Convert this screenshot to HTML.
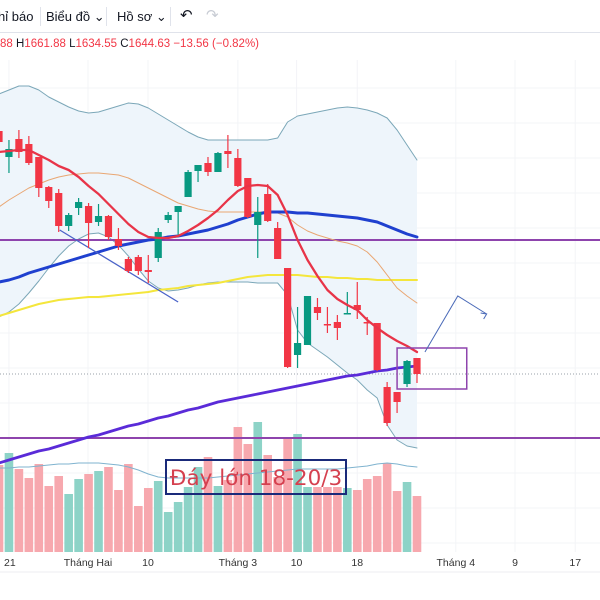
<!DOCTYPE html>
<html><head><meta charset="utf-8">
<style>
html,body{margin:0;padding:0;background:#fff;width:600px;height:600px;overflow:hidden;font-family:"Liberation Sans","DejaVu Sans",sans-serif}
#toolbar{position:absolute;left:0;top:0;width:600px;height:32px;border-bottom:1px solid #e0e3eb;font-size:13px;color:#131722}
.tb{position:absolute;top:9px}
.sep{position:absolute;top:7px;width:1px;height:19px;background:#e0e3eb}
#legend{position:absolute;left:0;top:38px;font-size:11.5px;color:#131722;white-space:nowrap}
#legend .v{color:#f23645}
svg{position:absolute;left:0;top:0}
</style></head><body>
<div id="toolbar">
  <span class="tb" style="left:-2px">hỉ báo</span>
  <div class="sep" style="left:40px"></div>
  <span class="tb" style="left:46px">Biểu đồ ⌄</span>
  <div class="sep" style="left:106px"></div>
  <span class="tb" style="left:117px">Hồ sơ ⌄</span>
  <div class="sep" style="left:170px"></div>
  <span class="tb" style="left:180px;font-size:15px;top:6px">↶</span>
  <span class="tb" style="left:206px;font-size:15px;top:6px;color:#c8ccd4">↷</span>
</div>
<div id="legend"><span class="v">88</span> H<span class="v">1661.88</span> L<span class="v">1634.55</span> C<span class="v">1644.63</span> <span class="v">−13.56 (−0.82%)</span></div>
<svg id="chart" width="600" height="600"></svg>
<script>
const opens  = [1889,1863,1881,1876,1863,1833,1827,1794,1812,1814,1798,1804,1781,1761,1763,1750,1762,1800,1808,1823,1849,1857,1848,1869,1862,1842,1795,1826,1792,1752,1665,1675,1713,1696,1698,1706,1715,1698,1697,1633,1628,1636,1662];
const highs  = [1892,1880,1890,1884,1863,1834,1831,1807,1822,1817,1816,1805,1792,1763,1765,1765,1792,1808,1814,1850,1855,1863,1868,1885,1871,1842,1823,1836,1798,1752,1713,1724,1722,1713,1705,1728,1738,1703,1697,1638,1628,1660,1662];
const lows   = [1875,1847,1862,1855,1823,1812,1788,1789,1805,1772,1794,1780,1770,1747,1745,1737,1758,1797,1783,1823,1838,1844,1848,1852,1833,1802,1762,1798,1761,1652,1652,1675,1700,1687,1680,1706,1701,1685,1649,1594,1607,1633,1637];
const closes = [1878,1871,1868,1857,1832,1819,1794,1805,1818,1797,1804,1783,1774,1749,1749,1748,1788,1805,1814,1848,1855,1848,1867,1866,1834,1803,1808,1799,1761,1653,1677,1724,1707,1695,1692,1707,1710,1697,1650,1597,1618,1659,1646];
const volumes = [87,99,83,74,88,66,76,58,73,78,81,85,62,88,46,64,71,40,50,65,85,95,66,72,125,108,130,97,75,113,118,65,65,65,65,64,62,73,76,89,61,70,56];
const volumeMA = [84,84,85,85,86,87,88,88,89,89,89,88,87,85,82,78,75,74,74,74,74,74,75,76,77,78,79,80,81,82,83,83,83,83,83,84,85,86,88,89,88,86,85];
const maFast = [1868,1869,1870,1870,1865,1860,1854,1850,1843,1834,1826,1816,1806,1796,1788,1783,1782,1782,1784,1789,1795,1802,1810,1820,1829,1834,1835,1834,1825,1805,1780,1760,1744,1730,1721,1715,1710,1700,1692,1685,1679,1674,1668];
const maBlue = [1738,1740,1743,1747,1750,1753,1756,1759,1762,1765,1768,1771,1774,1776,1778,1780,1781,1783,1784,1786,1788,1790,1793,1796,1800,1803,1806,1808,1808,1808,1807,1807,1806,1805,1804,1803,1802,1800,1798,1794,1790,1786,1783];
const maOrange = [1813,1820,1826,1832,1836,1840,1843,1845,1846,1847,1847,1846,1845,1842,1837,1832,1827,1822,1817,1814,1811,1809,1808,1808,1808,1808,1808,1808,1807,1803,1795,1789,1785,1782,1779,1777,1774,1768,1758,1745,1732,1724,1717];
const maYellow = [1704,1707,1710,1713,1716,1718,1720,1721,1722,1723,1723,1724,1725,1726,1727,1728,1730,1731,1732,1734,1735,1736,1737,1739,1741,1743,1744,1745,1745,1745,1745,1744,1743,1743,1742,1742,1741,1741,1740,1740,1740,1740,1740];
const ma200 = [1557,1560,1563,1566,1569,1571,1574,1577,1580,1583,1585,1588,1591,1594,1596,1599,1602,1604,1607,1610,1612,1615,1618,1620,1622,1624,1626,1628,1630,1632,1634,1636,1638,1640,1642,1644,1645,1647,1649,1650,1652,1653,1654];
const bbUpper = [1926,1930,1934,1934,1930,1923,1918,1913,1909,1907,1908,1911,1914,1917,1916,1912,1906,1900,1894,1888,1883,1880,1880,1880,1880,1880,1880,1880,1882,1898,1904,1906,1908,1910,1912,1913,1912,1910,1907,1902,1890,1875,1860];
const bbLower = [1703,1708,1716,1727,1739,1752,1764,1774,1781,1786,1787,1783,1775,1764,1751,1739,1732,1729,1730,1732,1735,1737,1738,1738,1738,1738,1737,1737,1737,1725,1690,1677,1670,1663,1655,1647,1640,1630,1622,1595,1580,1574,1572];
const xLabels = ["21","Tháng Hai","10","Tháng 3","10","18","Tháng 4","9","17"];
const xLabelIdx = [1,8.94,14.97,24.0,29.9,36.0,45.9,51.85,57.9];

const NS="http://www.w3.org/2000/svg";
const svg=document.getElementById('chart');
const xS=i=>-1+9.952*i;
const yP=p=>2020-p;
const yV=v=>552-v;
function mk(tag,attrs,parent){const e=document.createElementNS(NS,tag);for(const k in attrs)e.setAttribute(k,attrs[k]);(parent||svg).appendChild(e);return e;}

const grid=mk('g',{});


for(let gy=88;gy<552;gy+=35){mk('line',{x1:0,x2:600,y1:gy,y2:gy,stroke:'#f3f4f7','stroke-width':1},grid);}
xLabelIdx.forEach(i=>mk('line',{x1:xS(i),x2:xS(i),y1:60,y2:552,stroke:'#f3f4f7','stroke-width':1},grid));

let up=bbUpper.map((v,i)=>xS(i)+','+yP(v));
let lo=bbLower.map((v,i)=>xS(i)+','+yP(v)).reverse();
const bbFill=mk('polygon',{points:up.concat(lo).join(' '),fill:'#eef5fb'});



function line(arr,scale,color,w,name){
  const p=mk('polyline',{points:arr.map((v,i)=>xS(i)+','+scale(v)).join(' '),fill:'none',stroke:color,'stroke-width':w,'stroke-linejoin':'round','stroke-linecap':'round'});
  
  
  return p;
}

const vg=mk('g',{});


volumes.forEach((v,i)=>{
  const r=mk('rect',{x:xS(i)-4.3,y:yV(v),width:8.6,height:v,fill:closes[i]>=opens[i]?'#8dd3c7':'#f7a8ae'},vg);
  
  
});
line(volumeMA,yV,'#7fb3cf',1,'volume-ma-line');

line(bbUpper,yP,'#7ba7b8',1,'bollinger-upper');
line(bbLower,yP,'#7ba7b8',1,'bollinger-lower');

[1780,1582].forEach(p=>{
  const h=mk('line',{x1:0,x2:600,y1:yP(p),y2:yP(p),stroke:'#8e44ad','stroke-width':2});
  
  
});
const lp=mk('line',{x1:0,x2:600,y1:yP(closes[closes.length-1]),y2:yP(closes[closes.length-1]),stroke:'#9aa0a8','stroke-width':1,'stroke-dasharray':'1,2'});



line(maYellow,yP,'#f4e63c',2,'ma-yellow');
line(maOrange,yP,'#e9a672',1,'ma-orange');
line(ma200,yP,'#5a2bd8',2.8,'ma200-purple');
line(maBlue,yP,'#1f40cf',3,'ma-blue');

const tl=mk('line',{x1:xS(6.1),y1:yP(1790),x2:xS(18),y2:yP(1718),stroke:'#4a63c8','stroke-width':1.3});



const cg=mk('g',{});


opens.forEach((o,i)=>{
  const c=closes[i],upc=c>=o,col=upc?'#089981':'#f23645';
  const g=mk('g',{},cg);
  
  
  mk('line',{x1:xS(i),x2:xS(i),y1:yP(highs[i]),y2:yP(lows[i]),stroke:col,'stroke-width':1.2},g);
  const top=yP(Math.max(o,c)),h=Math.max(1.5,Math.abs(o-c));
  mk('rect',{x:xS(i)-3.6,y:top,width:7.2,height:h,fill:col},g);
});
line(maFast,yP,'#e83448',2.3,'ma-red');

const bx=mk('rect',{x:xS(40),y:yP(1672),width:xS(47)-xS(40),height:41,fill:'none',stroke:'#8e44ad','stroke-width':1.5});


const ar=mk('polyline',{points:[xS(42.8)+','+yP(1668),xS(46.1)+','+yP(1724),xS(49)+','+yP(1706)].join(' '),fill:'none',stroke:'#4a6ab8','stroke-width':1});


const ah=mk('polyline',{points:[(xS(49)-6)+','+(yP(1706)-1),xS(49)+','+yP(1706),(xS(49)-3)+','+(yP(1706)+5)].join(' '),fill:'none',stroke:'#4a6ab8','stroke-width':1});



const nb=mk('rect',{x:166,y:460,width:180,height:34,fill:'none',stroke:'#1a2a7a','stroke-width':2});


const nt=mk('text',{x:256,y:485,'text-anchor':'middle','font-size':21.5,fill:'#d5404f','font-family':'"DejaVu Sans","Liberation Sans",sans-serif'});
nt.textContent='Đáy lớn 18-20/3';



const ax=mk('g',{});


xLabels.forEach((t,k)=>{
  const tx=mk('text',{x:(k===0?4:xS(xLabelIdx[k])),y:566,'text-anchor':(k===0?'start':'middle'),'font-size':10.5,fill:'#333','font-family':'"Liberation Sans",sans-serif'},ax);
  tx.textContent=t;
  
  
});
mk('line',{x1:0,x2:600,y1:572,y2:572,stroke:'#eceef2','stroke-width':1},ax);
</script>
</body></html>
